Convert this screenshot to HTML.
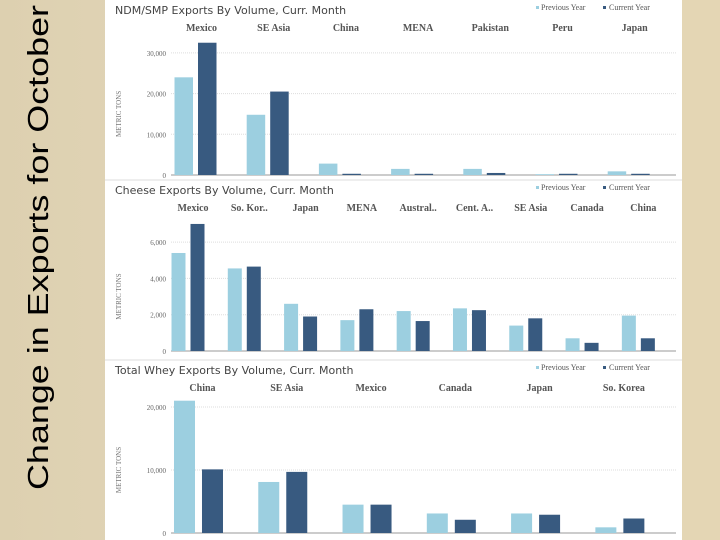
<!DOCTYPE html>
<html><head><meta charset="utf-8"><style>
html,body{margin:0;padding:0;width:720px;height:540px;overflow:hidden;background:#e6d9bb;}
svg{display:block}
</style></head><body>
<svg width="720" height="540" xmlns="http://www.w3.org/2000/svg" id="root">
<defs><linearGradient id="bg" x1="0" x2="1"><stop offset="0" stop-color="#ddd0b0"/><stop offset="1" stop-color="#ece2c8"/></linearGradient></defs>
<rect x="0" y="0" width="720" height="540" fill="url(#bg)"/>
<rect x="682" y="0" width="38" height="540" fill="#e4d6b4"/>
<text transform="translate(48,490) rotate(-90)" font-family="Liberation Sans, sans-serif" font-size="29" fill="#000" textLength="485" lengthAdjust="spacingAndGlyphs">Change in Exports for October</text>
<rect x="105" y="0" width="577" height="540" fill="#fff"/>
<line x1="105" y1="180" x2="682" y2="180" stroke="#ddd" stroke-width="1"/>
<line x1="105" y1="360" x2="682" y2="360" stroke="#ddd" stroke-width="1"/>
<g id="charts"></g>
</svg>
<script>
const c1Cats=["Mexico","SE Asia","China","MENA","Pakistan","Peru","Japan"];
const c1Prev=[24000,14800,2800,1500,1500,200,900];
const c1Curr=[32500,20500,300,300,500,300,300];
const c1Ticks=[0,10000,20000,30000];
const c2Cats=["Mexico","So. Kor..","Japan","MENA","Austral..","Cent. A..","SE Asia","Canada","China"];
const c2Prev=[5400,4550,2600,1700,2200,2350,1400,700,1950];
const c2Curr=[7000,4650,1900,2300,1650,2250,1800,450,700];
const c2Ticks=[0,2000,4000,6000];
const c3Cats=["China","SE Asia","Mexico","Canada","Japan","So. Korea"];
const c3Prev=[21000,8100,4500,3100,3100,900];
const c3Curr=[10100,9700,4500,2100,2900,2300];
const c3Ticks=[0,10000,20000];
const NS="http://www.w3.org/2000/svg";
const root=document.getElementById('charts');
function mk(tag,attrs,parent){const e=document.createElementNS(NS,tag);for(const k in attrs)e.setAttribute(k,attrs[k]);(parent||root).appendChild(e);return e;}
function chart(o){
  const g=mk('g',{});
  
  
  const y=v=>o.base-v*o.pxPer;
  const band=(o.x1-o.x0)/o.cats.length;
  const t=mk('text',{x:115,y:o.top+14,'font-family':'DejaVu Sans, sans-serif','font-size':11,fill:'#444'},g);
  t.textContent=o.title;
  
  
  const l1=mk('g',{},g);
  
  
  mk('rect',{x:536,y:o.top+6,width:3,height:3,fill:'#9ccfe0'},l1);
  const lt1=mk('text',{x:541,y:o.top+10,'font-family':'Liberation Serif, serif','font-size':8,fill:'#555'},l1);lt1.textContent='Previous Year';
  const l2=mk('g',{},g);
  
  
  mk('rect',{x:603,y:o.top+6,width:3,height:3,fill:'#385a80'},l2);
  const lt2=mk('text',{x:609,y:o.top+10,'font-family':'Liberation Serif, serif','font-size':8,fill:'#555'},l2);lt2.textContent='Current  Year';
  const at=mk('text',{transform:`translate(121,${(o.base+y(o.ticks[o.ticks.length-1]))/2}) rotate(-90)`,'text-anchor':'middle','font-family':'Liberation Serif, serif','font-size':7,fill:'#777'},g);
  at.textContent='METRIC TONS';
  
  
  o.ticks.forEach(v=>{
    const tk=mk('text',{x:166,y:y(v)+3,'text-anchor':'end','font-family':'Liberation Serif, serif','font-size':7,fill:'#666'},g);
    tk.textContent=v.toLocaleString('en-US');
    
    
    if(v>0){const gl=mk('line',{x1:171,x2:676,y1:y(v),y2:y(v),stroke:'#ddd','stroke-dasharray':'1,1'},g);
    
    }
  });
  const ax=mk('line',{x1:171,x2:676,y1:o.base,y2:o.base,stroke:'#999'},g);
  
  
  o.cats.forEach((c,i)=>{
    const cx=o.x0+band*(i+0.5);
    const lb=mk('text',{x:cx+o.lblOff,y:o.top+31,'text-anchor':'middle','font-family':'Liberation Serif, serif','font-weight':'bold','font-size':10,fill:'#555'},g);
    lb.textContent=c;
    
    
    const b1=mk('rect',{x:cx-o.bw-o.gap/2,y:y(o.prev[i]),width:o.bw,height:o.base-y(o.prev[i]),fill:'#9ccfe0'},g);
    
    
    const b2=mk('rect',{x:cx+o.gap/2,y:y(o.curr[i]),width:o.bw,height:o.base-y(o.curr[i]),fill:'#385a80'},g);
    
    
  });
}
chart({name:'ndm-smp-chart',title:'NDM/SMP Exports By Volume, Curr. Month',cats:c1Cats,prev:c1Prev,curr:c1Curr,ticks:c1Ticks,top:0,base:175,pxPer:40.7/10000,x0:159.4,x1:664.8,bw:18.5,gap:5,lblOff:6});
chart({name:'cheese-chart',title:'Cheese Exports By Volume, Curr. Month',cats:c2Cats,prev:c2Prev,curr:c2Curr,ticks:c2Ticks,top:180,base:351,pxPer:36.3/2000,x0:159.85,x1:666.5,bw:14,gap:5,lblOff:5});
chart({name:'whey-chart',title:'Total Whey Exports By Volume, Curr. Month',cats:c3Cats,prev:c3Prev,curr:c3Curr,ticks:c3Ticks,top:360,base:533,pxPer:63/10000,x0:156.35,x1:662,bw:21,gap:7,lblOff:4});
</script>
</body></html>
